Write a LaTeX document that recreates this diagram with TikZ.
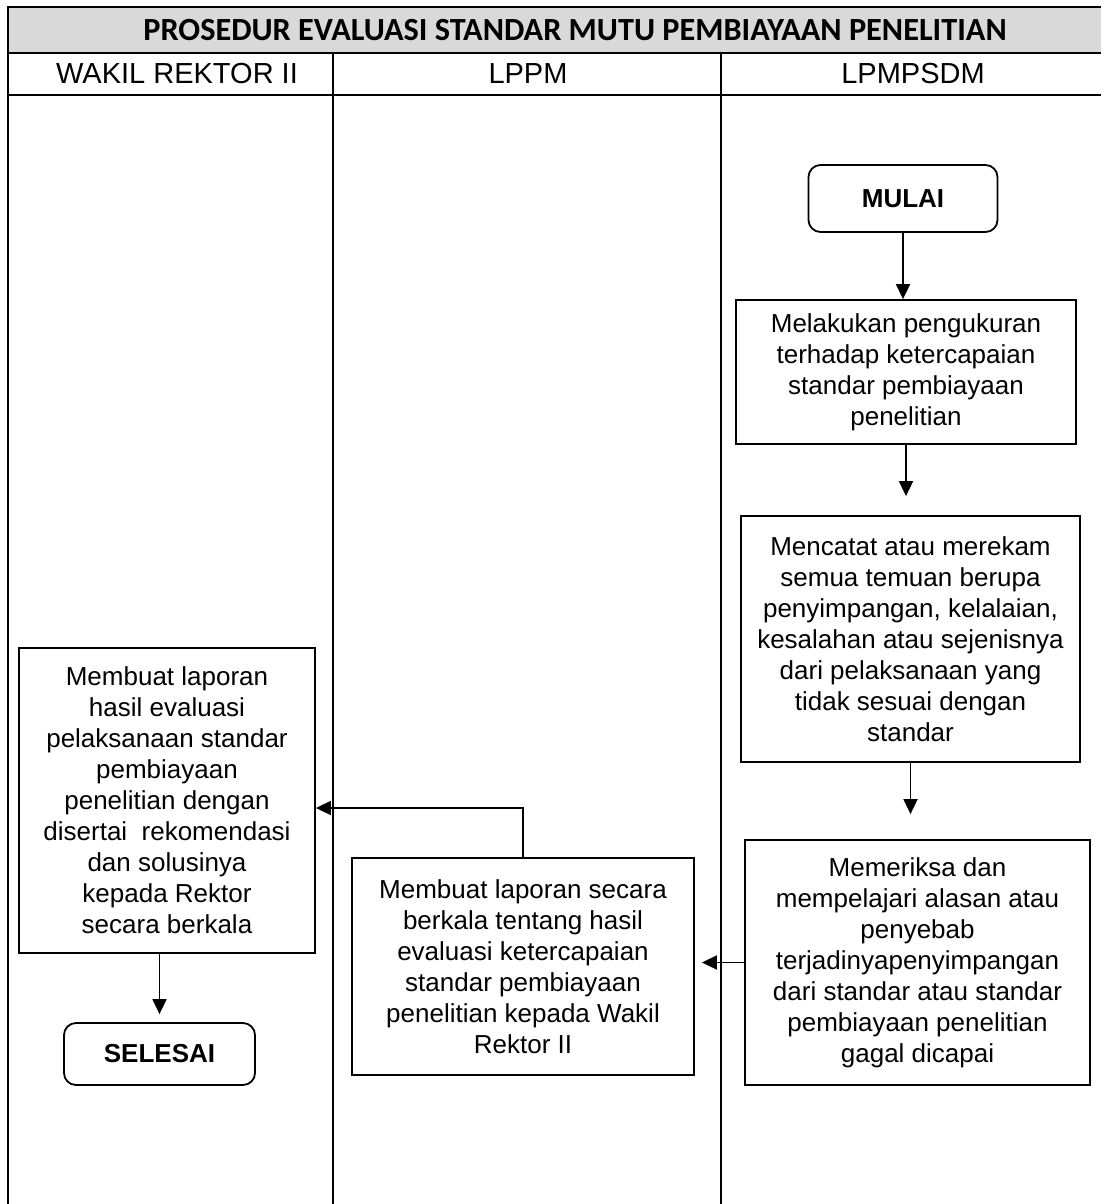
\documentclass[tikz,border=0pt]{standalone}
\usepackage{fontspec}
\setmainfont{Liberation Sans}
\newfontfamily\titlefont{Carlito}
\usetikzlibrary{arrows.meta}

\begin{document}
\begin{tikzpicture}[x=1pt,y=-1pt]
\useasboundingbox (0,0) rectangle (1101,1204);

% % table
\fill[black!15] (8,7) rectangle (1101,53);
\begin{scope}[line width=1.8pt]
    \draw (1101,7) -- (8,7) -- (8,1204);
    \draw (8,53) -- (1101,53);
    \draw (8,95) -- (1101,95);
    \draw (333,53) -- (333,1204);
    \draw (721,53) -- (721,1204);
\end{scope}

\node (title) at (575,30) [font=\titlefont\bfseries\fontsize{32.3}{36}\selectfont] {PROSEDUR EVALUASI STANDAR MUTU PEMBIAYAAN PENELITIAN};
\begin{scope}[every node/.style={font=\fontsize{29}{34}\selectfont}]
    \node (h1) at (177,74) {WAKIL REKTOR II};
    \node (h2) at (528,74) {LPPM};
    \node (h3) at (913,74) {LPMPSDM};
\end{scope}

\begin{scope}[
    every node/.style={rectangle,draw=black,line width=1.8pt,fill=white,
        align=center,inner sep=0pt,font=\fontsize{26}{31}\selectfont}]
    \node (1) at (903,198.5) [rounded corners=12pt,minimum width=189,minimum height=67,font=\bfseries\fontsize{26}{31}\selectfont] {MULAI};

    \node (2) at (906,372) [minimum width=340,minimum height=144] {Melakukan pengukuran\\terhadap ketercapaian\\standar pembiayaan\\penelitian};

    \node (3) at (910.5,639) [minimum width=339,minimum height=246] {Mencatat atau merekam\\semua temuan berupa\\penyimpangan, kelalaian,\\kesalahan atau sejenisnya\\dari pelaksanaan yang\\tidak sesuai dengan\\standar};

    \node (4) at (917.5,962.5) [minimum width=345,minimum height=245] {Memeriksa dan\\mempelajari alasan atau\\penyebab\\terjadinyapenyimpangan\\dari standar atau standar\\pembiayaan penelitian\\gagal dicapai};

    % % LPPM
    \node (5) at (523,966.5) [minimum width=342,minimum height=217] {Membuat laporan secara\\berkala tentang hasil\\evaluasi ketercapaian\\standar pembiayaan\\penelitian kepada Wakil\\Rektor II};

    % % Wakil Rektor II
    \node (6) at (167,800.5) [minimum width=296,minimum height=305] {Membuat laporan\\hasil evaluasi\\pelaksanaan standar\\pembiayaan\\penelitian dengan\\disertai\ \ rekomendasi\\dan solusinya\\kepada Rektor\\secara berkala};

    \node (7) at (159.5,1054) [rounded corners=12pt,minimum width=191,minimum height=62,font=\bfseries\fontsize{26}{31}\selectfont] {SELESAI};
\end{scope}

\begin{scope}[>={Triangle[length=15pt,width=14pt]},line width=1.8pt]
    \path [->] (1) edge (1.south |- 2.north);
    \draw [->,shorten >=19pt] (2.south) -- (2.south |- 3.north);
    \draw [->,shorten >=25pt] (3.south) -- (3.south |- 4.north);
    \draw [->,shorten >=7pt] (4.west) -- (4.west -| 5.east);
    \draw [->] (5.north) |- ([yshift=-7.5pt]6.east);
    \draw [->,shorten >=8pt] (6.south -| 7.north) -- (7.north);
\end{scope}
\end{tikzpicture}
\end{document}
